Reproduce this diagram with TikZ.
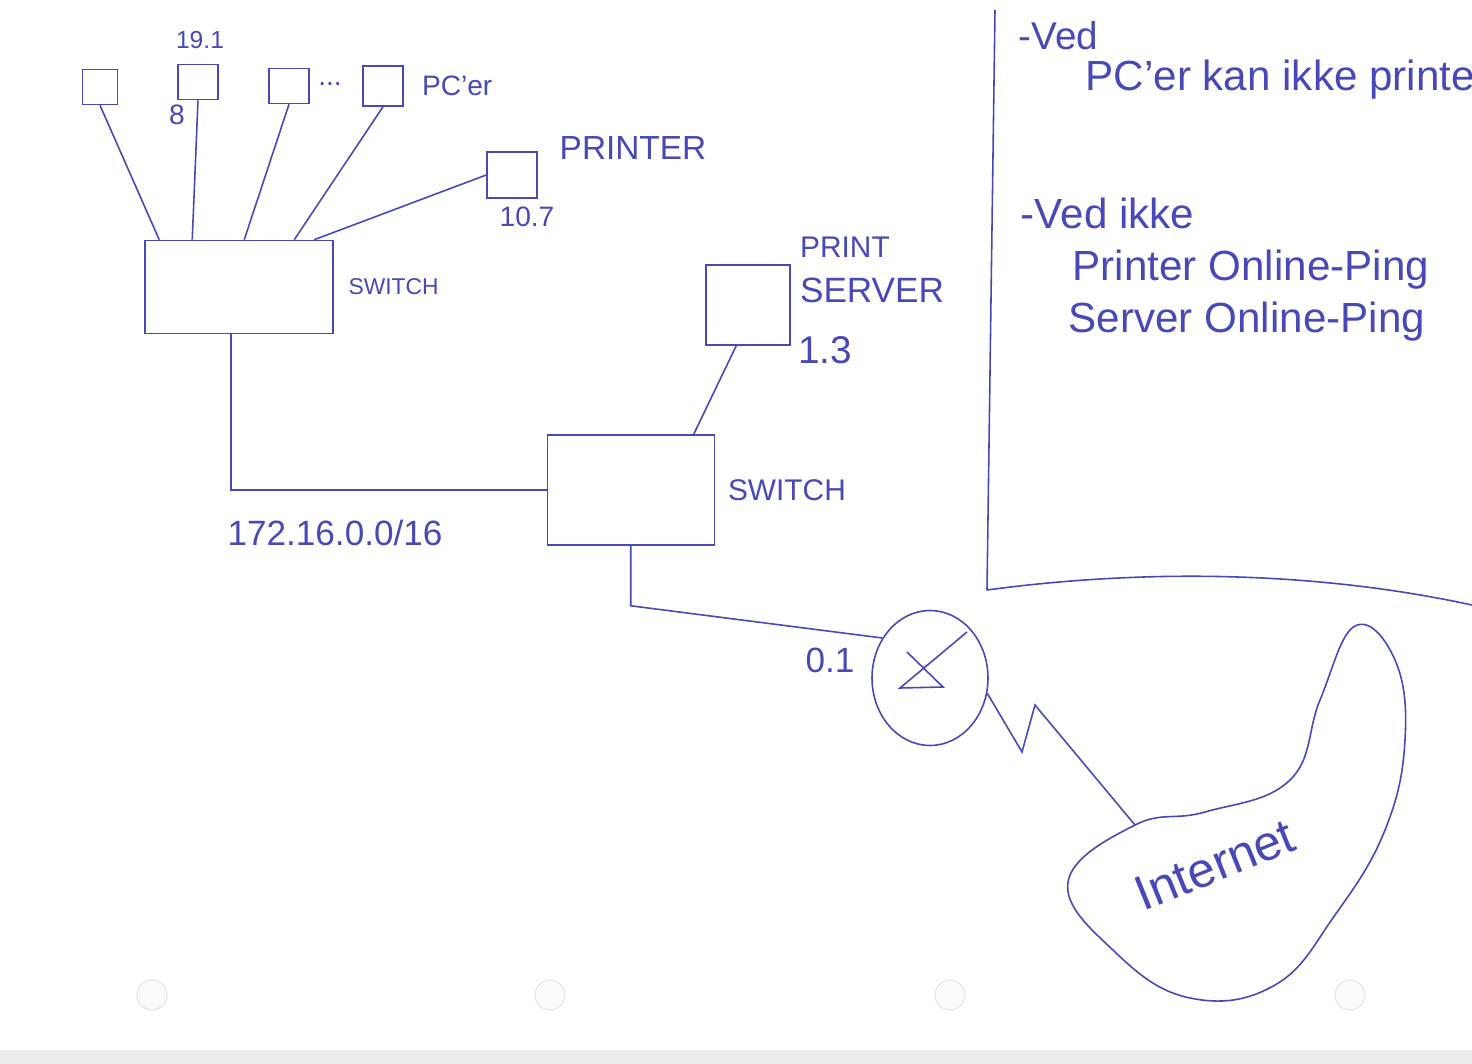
\documentclass[tikz,border=0pt]{standalone}
\usepackage{fontspec}
\setmainfont{Liberation Sans}
\usetikzlibrary{calc,positioning,shapes.geometric}
\definecolor{ink}{RGB}{72,72,182}

\begin{document}
\begin{tikzpicture}[x=0.02cm, y=-0.02cm, line width=0.9pt, color=ink,
                    font=\fontsize{16}{18}\selectfont]
        \tikzset{pc/.style={draw, rectangle, inner sep=0pt,
                 minimum width=0.8cm, minimum height=0.7cm},
                 sw/.style={draw, rectangle, inner sep=0pt},
                 lbl/.style={inner sep=0pt},
                 note/.style={inner sep=0pt, anchor=west,
                 font=\fontsize{24}{28}\selectfont}}
        \useasboundingbox[fill=white] (0,0) rectangle (1472,1064);
        %% Papirkant og huller
        \fill[black!8] (0,1050) rectangle (1472,1064);
        \foreach \hx in {152,550,950,1350}
            \draw[black!12, fill=black!2, line width=0.5pt] (\hx,995) circle (15);
        %% PC'er og switch
        \node[pc, minimum width=0.7cm] (pcA) at (100,87) {};
        \node[pc] (pcB) at (198,82) {};
        \node[pc] (pcC) at (289,86) {};
        \node[pc, minimum height=0.8cm] (pcD) at (383,86) {};
        \node[lbl] (dots) at (330,84) {...};
        \node[lbl, right=0.35cm of pcD] (pcer) {PC'er};
        \node[lbl, font=\fontsize{14}{16}\selectfont] (ipB) at (200,40) {19.1};
        \node[lbl] (n8) at (177,115) {8};
        \node[sw, minimum width=3.76cm, minimum height=1.86cm] (swA) at (239,287) {};
        \node[lbl, font=\fontsize{13}{15}\selectfont, right=0.28cm of swA] (swAl) {SWITCH};
        \draw (pcA.south) -- ($(swA.north west)+(15,0)$);
        \draw (pcB.south) -- ($(swA.north west)+(48,0)$);
        \draw (pcC.south) -- ($(swA.north west)+(100,0)$);
        \draw (pcD.south) -- ($(swA.north west)+(150,0)$);
        %% Printer
        \node[pc, minimum width=1cm, minimum height=0.92cm] (prn) at (512,175) {};
        \node[lbl, font=\fontsize{19}{22}\selectfont] (prnl) at (633,148) {PRINTER};
        \node[lbl] (prnip) at (527,217) {10.7};
        \draw ($(swA.north west)+(170,0)$) -- (prn.west);
        %% Print server og switch
        \node[pc, minimum width=1.68cm, minimum height=1.6cm] (psv) at (748,305) {};
        \node[lbl, font=\fontsize{17}{20}\selectfont] (psvl) at (845,247) {PRINT};
        \node[lbl, font=\fontsize{20}{24}\selectfont] (psvm) at (872,290) {SERVER};
        \node[lbl, font=\fontsize{22}{26}\selectfont] (psvip) at (825,350) {1.3};
        \node[sw, minimum width=3.34cm, minimum height=2.2cm] (swB) at (631,490) {};
        \node[lbl, font=\fontsize{17}{20}\selectfont, right=0.24cm of swB] (swBl) {SWITCH};
        \draw ($(psv.south west)+(31,0)$) -- ($(swB.north west)+(147,0)$);
        \draw ($(swA.south west)+(87,0)$) |- (swB.west);
        \node[lbl, font=\fontsize{20}{24}\selectfont] (net16) at (335,533) {172.16.0.0/16};
        %% Router
        \node[draw, ellipse, minimum width=2.32cm, minimum height=2.7cm] (rtr) at (930,678) {};
        \draw ($(rtr.center)+(-23,-26)$) -- ($(rtr.center)+(13,9)$)
              -- ($(rtr.center)+(-30,10)$) -- ($(rtr.center)+(37,-46)$);
        \node[lbl, font=\fontsize{20}{24}\selectfont] (rtrip) at (830,660) {0.1};
        \draw ($(swB.south west)+(84,0)$) -- ++(0,60) -- (rtr.140);
        %% Internet
        \draw plot[smooth cycle, tension=0.7] coordinates {(1068,882) (1135,825)
              (1205,812) (1290,780) (1320,700) (1355,626) (1395,660) (1405,740)
              (1385,830) (1335,915) (1275,985) (1190,998) (1115,952)};
        \coordinate (netin) at (1135,825);
        \node[lbl, rotate=22, font=\fontsize{28}{32}\selectfont] (inet) at (1215,865) {Internet};
        \draw (rtr.-15) -- (1022,752) -- (1035,705) -- (netin);
        %% Notater
        \draw (995,10) -- (987,590);
        \draw (987,590) .. controls (1150,568) and (1320,572) .. (1472,605);
        \node[note, font=\fontsize{22}{26}\selectfont] (n1) at (1018,36) {-Ved};
        \node[note] (n2) at (1085,80) {PC'er kan ikke printe};
        \node[note] (n3) at (1020,213) {-Ved ikke};
        \node[note] (n4) at (1072,270) {Printer Online-Ping};
        \node[note] (n5) at (1068,322) {Server Online-Ping};
\end{tikzpicture}
\end{document}
